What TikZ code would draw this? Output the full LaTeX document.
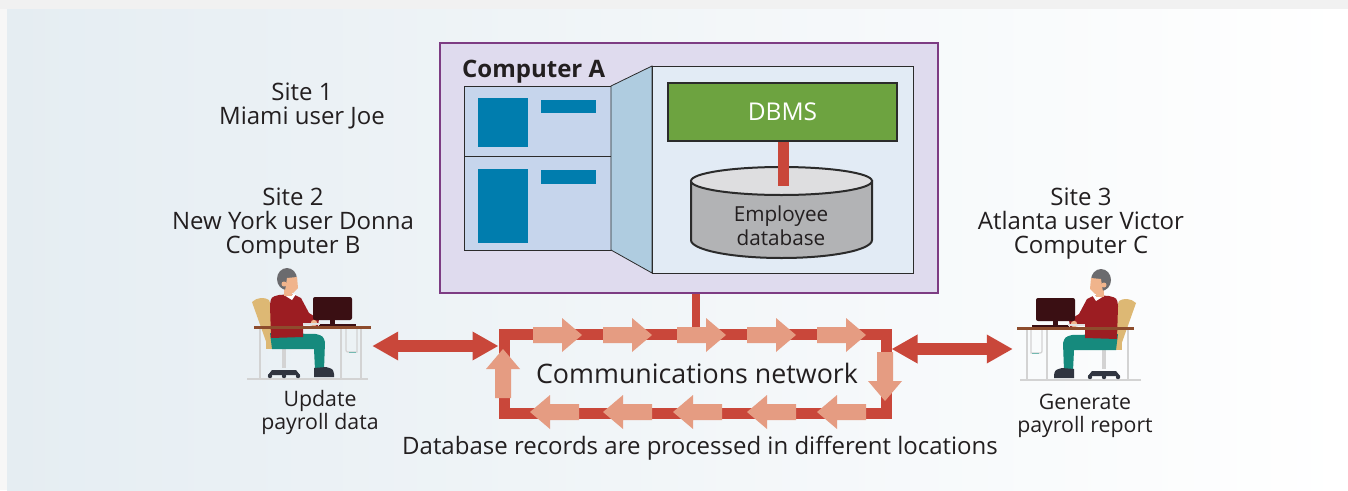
\documentclass[tikz,border=0pt]{standalone}
\usepackage{fontspec}
\setmainfont{Open Sans}
\usetikzlibrary{arrows.meta,calc}

\definecolor{ink}{HTML}{231F20}
\definecolor{bgL}{HTML}{E5EDF2}
\definecolor{bgM}{HTML}{F4F7FA}
\definecolor{band}{HTML}{F1F1F1}
\definecolor{purp}{HTML}{7D3C83}
\definecolor{lav}{HTML}{DFDBEE}
\definecolor{panelL}{HTML}{C6D5EC}
\definecolor{trap}{HTML}{AFCCE0}
\definecolor{panelR}{HTML}{E2EBF5}
\definecolor{dbgreen}{HTML}{6DA340}
\definecolor{winblue}{HTML}{007DAE}
\definecolor{cylbody}{HTML}{B2B3B5}
\definecolor{cyltop}{HTML}{DEDEE0}
\definecolor{netred}{HTML}{C9473A}
\definecolor{salmon}{HTML}{E59C82}
\definecolor{edge}{HTML}{2B2B2B}
% figure colours
\definecolor{chair}{HTML}{DDB874}
\definecolor{sweater}{HTML}{9C1D22}
\definecolor{skin}{HTML}{F0B48C}
\definecolor{hair}{HTML}{6B6B6E}
\definecolor{trousers}{HTML}{168A7D}
\definecolor{shoe}{HTML}{303540}
\definecolor{screen}{HTML}{3A0F13}
\definecolor{desk}{HTML}{8D4C2D}
\definecolor{leg}{HTML}{D3D3D3}

\tikzset{
  label/.style={text=ink, align=center, inner sep=0pt, font=\fontsize{24}{24}\selectfont},
  small/.style={text=ink, align=center, inner sep=0pt, font=\fontsize{21.3}{23}\selectfont},
  redlink/.style={draw=netred, line width=#1},
  redlink/.default=10pt,
  twoway/.style={draw=netred, line width=12pt,
    {Triangle[length=26pt,width=27pt]}-{Triangle[length=26pt,width=27pt]}},
  flow/.pic={\fill[salmon] (0,-8) -- (29,-8) -- (29,-17) -- (49,0) -- (29,17) -- (29,8) -- (0,8) -- cycle;},
  winbox/.style={draw=edge, line width=0.8pt, fill=panelL}
}

% a user seated at a desk, drawn in its own coordinates
\newcommand{\deskuser}{%
  % chair back and seat
  \fill[chair] (252,302) .. controls (257,297) and (265,297) .. (269,300) -- (284,343) -- (268,347) -- cycle;
  \fill[chair] (266,341) rectangle (303,349);
  % desk legs and drawer
  \draw[leg, line width=2pt] (260,329) -- (260,378);
  \draw[leg, line width=2pt] (341,329) -- (341,378);
  \draw[leg, line width=2pt] (361,329) -- (361,378);
  \draw[leg, line width=1.2pt] (346,329) -- (346,348) .. controls (346,352) .. (350,352) -- (357,352) -- (357,329);
  \draw[trousers!60, line width=1pt] (349,352) -- (356,352);
  % floor
  \draw[leg, line width=2.5pt] (247,379) -- (368,379);
  % chair post and base
  \draw[leg, line width=3.5pt] (284,349) -- (284,368);
  \fill[shoe] (272,370) -- (296,370) -- (300,375) -- (268,375) -- cycle;
  \fill[shoe] (270,376) circle (2.2) (284,376) circle (2.2) (298,376) circle (2.2);
  % trousers and shoe
  \fill[trousers] (270,333) -- (316,334) .. controls (323,336) .. (325,342) -- (324,370) -- (315,370) -- (314,349) -- (272,349) -- cycle;
  \fill[shoe] (314,368) -- (326,367) .. controls (333,369) .. (334,374) -- (334,377) -- (314,377) -- cycle;
  % sweater
  \fill[sweater] (270,305) .. controls (271,297) .. (279,295) -- (293,294) -- (301,298) -- (309,313) -- (319,319) -- (318,326) -- (303,324) -- (303,337) -- (271,338) -- cycle;
  \fill[white] (284,295) -- (296,294) -- (292,300) -- cycle;
  \fill[skin] (314,323) circle (3.2);
  % head
  \fill[skin] (284,288) rectangle (292,296);
  \fill[hair] (287,279) ellipse [x radius=10, y radius=11];
  \fill[skin] (287,278) -- (297,277) -- (298,288) -- (293,293) -- (285,291) -- cycle;
  \fill[skin] (284,284) circle (2.5);
  % monitor and keyboard
  \fill[screen, rounded corners=2pt] (313,297) rectangle (352,320);
  \fill[screen] (330,320) rectangle (335,325);
  \draw[screen, line width=2pt] (319,325) -- (356,325);
  \draw[leg!70, line width=1.5pt] (303,324) -- (320,324);
  % desk top
  \fill[desk] (254,326) rectangle (371,329);
}

\begin{document}
\begin{tikzpicture}[x=1pt, y=-1pt]
\useasboundingbox (0,0) rectangle (1348,490);

% backdrop
\fill[white] (0,0) rectangle (1348,490);
\fill[band] (0,0) rectangle (1348,9);
\fill[band!60] (0,9) rectangle (7,490);
\shade[left color=bgL, middle color=bgM, right color=white] (7,9) rectangle (1348,490);

% ---- Computer A -------------------------------------------------
\node[draw=purp, line width=2pt, fill=lav, minimum width=498pt, minimum height=250pt,
      inner sep=0pt, anchor=north west] (compA) at (439,42) {};
\node[anchor=base west, inner sep=0pt, text=ink,
      font=\bfseries\fontsize{24}{24}\selectfont] (compAname) at (462,77) {Computer A};

% stacked application windows
\node[winbox, minimum width=147pt, minimum height=70pt, anchor=north west, inner sep=0pt] (winTop) at (464,86) {};
\node[winbox, minimum width=147pt, minimum height=94pt, anchor=north west, inner sep=0pt] (winBot) at (464,156) {};
\fill[winblue] (478,98) rectangle (528,147);
\fill[winblue] (541,100) rectangle (596,113);
\fill[winblue] (478,169) rectangle (528,243);
\fill[winblue] (541,170) rectangle (596,184);

% zoom wedge and DBMS panel
\filldraw[fill=trap, draw=edge, line width=0.8pt] (611,86) -- (652,66) -- (652,273) -- (611,250) -- cycle;
\node[draw=edge, line width=0.8pt, fill=panelR, minimum width=261pt, minimum height=207pt,
      inner sep=0pt, anchor=north west] (dbpanel) at (652,66) {};
\node[draw=edge, line width=2pt, fill=dbgreen, minimum width=229pt, minimum height=58pt,
      inner sep=0pt, anchor=north west] (dbms) at (667,82) {};
\node[text=white, inner sep=0pt, font=\fontsize{24.5}{25}\selectfont] (dbmsname) at (dbms.center) {DBMS};

% employee database cylinder
\filldraw[fill=cylbody, draw=edge, line width=2pt]
  (691,181) -- (691,240) arc[start angle=180, end angle=0, x radius=90.5, y radius=18] -- (872,181) -- cycle;
\filldraw[fill=cyltop, draw=edge, line width=2pt] (781.5,181) ellipse [x radius=90.5, y radius=14];
\coordinate (dbtop) at (783,186);
\node[text=ink, align=center, inner sep=0pt, font=\fontsize{20.7}{24}\selectfont] (empdb) at (781,226) {Employee\\database};
\draw[redlink=11pt] (dbms.south -| dbtop) -- (dbtop);

% ---- communications network ------------------------------------
\node[draw=netred, line width=11pt, minimum width=382pt, minimum height=79pt, inner sep=0pt]
  (net) at (695,373.5) {};
\node[text=ink, inner sep=0pt, font=\fontsize{26.8}{30}\selectfont] (netname) at (697,373) {Communications network};
\draw[redlink=8pt] (compA.south -| 696,0) -- (net.north -| 696,0);

% packets travelling round the ring
\foreach \x in {533,603,677,747,817} \pic at (\x,335) {flow};
\foreach \x in {579,652,722,796,866} \pic[xscale=-1] at (\x,412) {flow};
\pic[rotate=-90] at (885,352) {flow};
\pic[rotate=90] at (503,398) {flow};

% ---- users --------------------------------------------------------
\node[minimum width=125pt, minimum height=112pt, inner sep=0pt] (userB) at (309.5,324) {};
\node[minimum width=131pt, minimum height=112pt, inner sep=0pt] (userC) at (1078.5,325) {};
\deskuser
\begin{scope}[shift={(1388,1)}, xscale=-1]
  \deskuser
\end{scope}

\draw[twoway] (userB.east |- 0,346) -- (net.west |- 0,346);
\draw[twoway] (net.east |- 0,349) -- (userC.west |- 0,349);

% ---- labels -------------------------------------------------------
\node[label] (site1) at (302,106) {Site 1\\Miami user Joe};
\node[label] (site2) at (293,224) {Site 2\\New York user Donna\\Computer B};
\node[label] (site3) at (1081,224) {Site 3\\Atlanta user Victor\\Computer C};
\node[small] (taskB) at (320,412) {Update\\payroll data};
\node[small] (taskC) at (1085,416) {Generate\\payroll report};
\node[text=ink, inner sep=0pt, font=\fontsize{24}{26}\selectfont] (caption) at (700,448)
  {Database records are processed in different locations};
\end{tikzpicture}
\end{document}
